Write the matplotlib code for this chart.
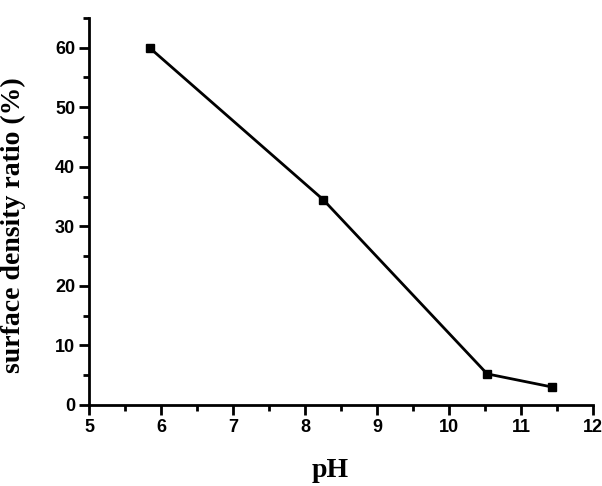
import matplotlib
matplotlib.use("Agg")
import matplotlib.pyplot as plt
from matplotlib.ticker import MultipleLocator

# data
ph = [5.84, 8.25, 10.53, 11.43]
ratio = [60.0, 34.5, 5.2, 3.0]

fig = plt.figure(figsize=(6.02, 4.86), dpi=100)
ax = fig.add_axes([0.148, 0.167, 0.837, 0.796])

ax.plot(ph, ratio, color='black', lw=2, marker='s', ms=6, mfc='black', mec='black')

ax.set_xlim(5, 12)
ax.set_ylim(0, 65)
ax.xaxis.set_major_locator(MultipleLocator(1))
ax.xaxis.set_minor_locator(MultipleLocator(0.5))
ax.yaxis.set_major_locator(MultipleLocator(10))
ax.yaxis.set_minor_locator(MultipleLocator(5))

for s in ['top', 'right']:
    ax.spines[s].set_visible(False)
for s in ['left', 'bottom']:
    ax.spines[s].set_linewidth(2)

ax.tick_params(which='major', direction='out', length=7, width=2, labelsize=13, pad=3)
ax.tick_params(which='minor', direction='out', length=4, width=2)
for lab in ax.get_xticklabels() + ax.get_yticklabels():
    lab.set_fontfamily('Liberation Sans')
    lab.set_fontweight('bold')

ax.set_xlabel('pH', fontfamily='Liberation Serif', fontweight='bold', fontsize=20)
ax.set_ylabel('surface density ratio (%)', fontfamily='Liberation Serif', fontweight='bold',
              fontsize=20)
ax.xaxis.set_label_coords(0.478, -0.138)
ax.yaxis.set_label_coords(-0.125, 0.465)

fig.savefig('out.png', dpi=100)
